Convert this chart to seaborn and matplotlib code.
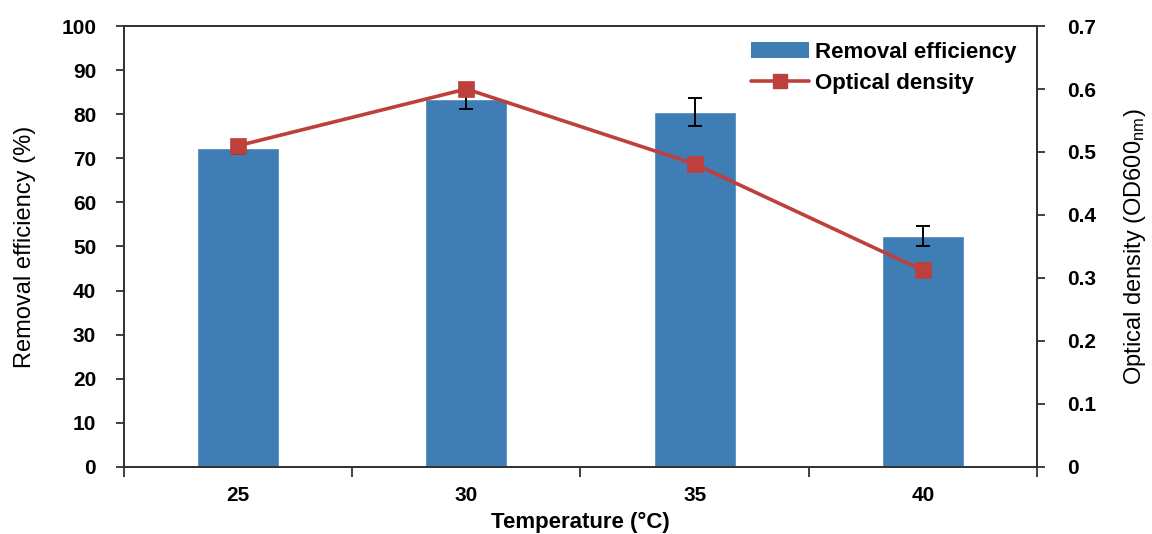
import numpy as np
import pandas as pd
import matplotlib
matplotlib.use("Agg")
import matplotlib.pyplot as plt
from matplotlib.patches import Patch
from matplotlib.lines import Line2D
from matplotlib.ticker import FixedLocator, FuncFormatter
import seaborn as sns

# Data
temperatures = ["25", "30", "35", "40"]
removal_efficiency = [72.3, 83.4, 80.5, 52.4]
removal_error = [1.3, 2.2, 3.2, 2.2]
optical_density = [0.51, 0.60, 0.481, 0.312]
left_ticks = [0, 10, 20, 30, 40, 50, 60, 70, 80, 90, 100]
right_ticks = [0, 0.1, 0.2, 0.3, 0.4, 0.5, 0.6, 0.7]

bar_color = "#3f7db5"
line_color = "#bd403d"
axis_color = "#333333"

sns.set_theme(style="white")
plt.rcParams["font.family"] = ["Liberation Sans", "DejaVu Sans"]
plt.rcParams["mathtext.fontset"] = "custom"
plt.rcParams["mathtext.rm"] = "Liberation Sans"
plt.rcParams["mathtext.it"] = "Liberation Sans:italic"
plt.rcParams["mathtext.bf"] = "Liberation Sans:bold"
plt.rcParams["text.color"] = "black"
plt.rcParams["axes.labelcolor"] = "black"
plt.rcParams["xtick.color"] = "black"
plt.rcParams["ytick.color"] = "black"

df = pd.DataFrame({
    "Temperature": temperatures,
    "Removal": removal_efficiency,
    "OD": optical_density,
})

fig = plt.figure(figsize=(11.52, 5.34), dpi=100)
ax = fig.add_axes([0.1076, 0.1255, 0.7926, 0.8258])

sns.barplot(data=df, x="Temperature", y="Removal", color=bar_color,
            saturation=1, width=0.36, ax=ax, errorbar=None)

# error bars centred on each bar
centers = [p.get_x() + p.get_width() / 2 for p in ax.patches]
heights = [p.get_height() for p in ax.patches]
ax.errorbar(centers, heights, yerr=removal_error, fmt="none",
            ecolor="black", elinewidth=1.4, capsize=5, capthick=1.4, zorder=3)

ax.set_ylim(0, 100)
ax.set_xlim(-0.5, len(temperatures) - 0.5)
ax.yaxis.set_major_locator(FixedLocator(left_ticks))

ax2 = ax.twinx()
sns.pointplot(data=df, x="Temperature", y="OD", color=line_color,
              markers="s", linestyles="-", ax=ax2, errorbar=None,
              markersize=10, linewidth=2.6)
ax2.set_ylim(0, 0.7)
ax2.set_xlim(-0.5, len(temperatures) - 0.5)
ax2.yaxis.set_major_locator(FixedLocator(right_ticks))
ax2.yaxis.set_major_formatter(
    FuncFormatter(lambda v, pos: "0" if abs(v) < 1e-9 else f"{v:.1f}"))

# spines and ticks
for a in (ax, ax2):
    for s in a.spines.values():
        s.set_visible(True)
        s.set_color(axis_color)
        s.set_linewidth(1.3)

ax.tick_params(axis="y", direction="out", length=6, width=1.3,
               color=axis_color, left=True, pad=14, labelsize=15)
ax2.tick_params(axis="y", direction="out", length=6, width=1.3,
                color=axis_color, right=True, pad=16, labelsize=15)
ax.tick_params(axis="x", which="major", length=0, pad=14, labelsize=15)
ax.xaxis.set_minor_locator(FixedLocator(np.arange(-0.5, len(temperatures), 1.0)))
ax.tick_params(axis="x", which="minor", direction="out", length=7,
               width=1.3, color=axis_color, bottom=True)
for lbl in ax.get_xticklabels() + ax.get_yticklabels() + ax2.get_yticklabels():
    lbl.set_fontweight("bold")

ax.set_xlabel("Temperature (°C)", fontsize=16, fontweight="bold", labelpad=5)
ax.set_ylabel("Removal efficiency (%)", fontsize=17, labelpad=18)
ax2.set_ylabel(r"Optical density (OD600$_{\mathrm{nm}}$)", fontsize=17,
               labelpad=18)
ax2.set_xlabel("")

handles = [
    Patch(facecolor=bar_color, edgecolor="none"),
    Line2D([0], [0], color=line_color, lw=2.6, marker="s", markersize=10),
]
ax2.legend(handles, ["Removal efficiency", "Optical density"],
           loc="upper right", bbox_to_anchor=(0.995, 1.0), frameon=False,
           prop=dict(size=16, weight="bold"), handlelength=2.6,
           handletextpad=0.3, labelspacing=0.45, borderaxespad=0.3)

fig.savefig("out.png", dpi=100)
